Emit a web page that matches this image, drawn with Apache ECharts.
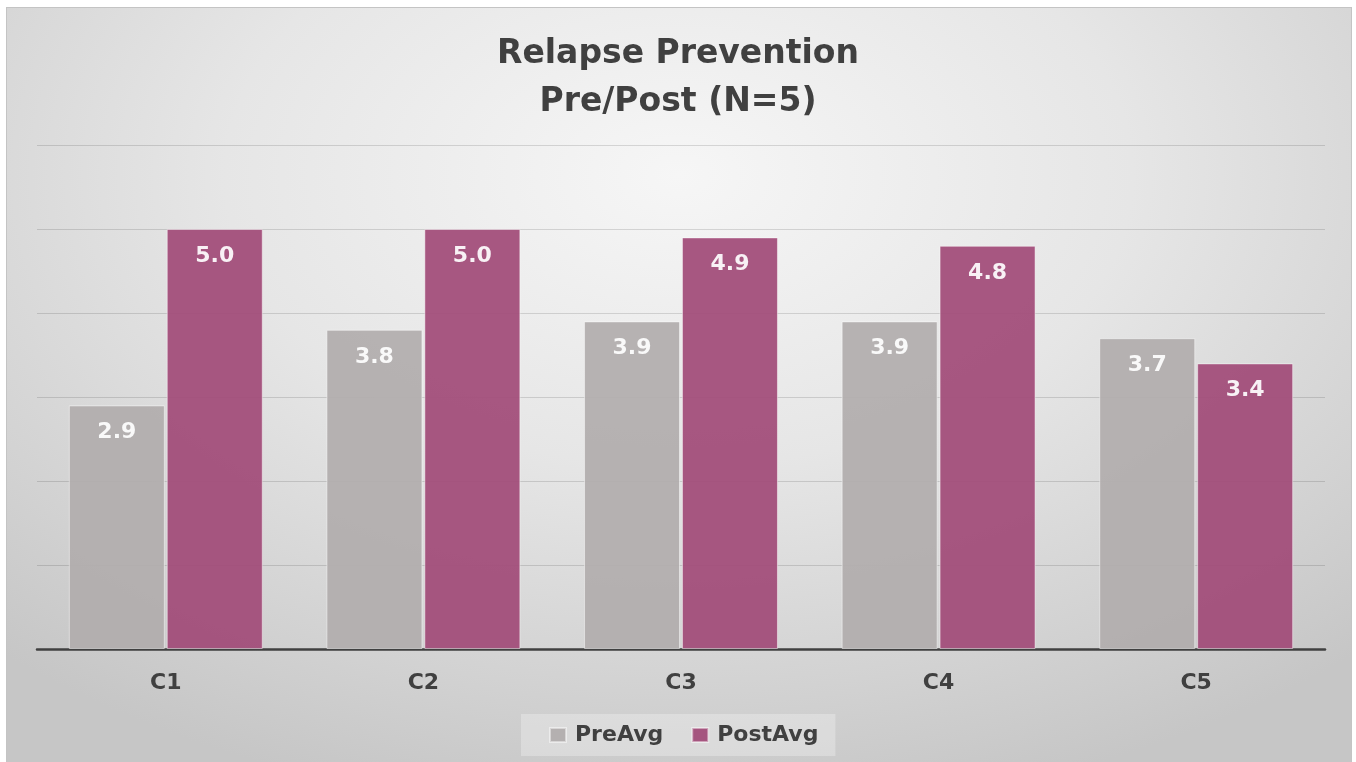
<!DOCTYPE html>
<html>
<head>
<meta charset="utf-8">
<script src="https://cdn.jsdelivr.net/npm/echarts@6/dist/echarts.min.js"></script>
<style>
  html, body { margin: 0; padding: 0; width: 1356px; height: 762px; background: #ffffff; overflow: hidden; }
  #bg { position: absolute; left: 6px; top: 7px; width: 1344px; height: 760px; border: 1px solid #c4c4c4;
        background: radial-gradient(ellipse 75% 85% at 50% 22%, #f6f6f6 0%, #e6e6e6 45%, #d2d2d2 80%, #c6c6c6 100%); }
  #chart { position: absolute; left: 0; top: 0; width: 1356px; height: 762px; }
</style>
</head>
<body>
<div id="bg"></div>
<div id="chart"></div>
<script>
const categories = ['C1', 'C2', 'C3', 'C4', 'C5'];
const preAvg = [2.9, 3.8, 3.9, 3.9, 3.7];
const postAvg = [5.0, 5.0, 4.9, 4.8, 3.4];
const seriesNames = ['PreAvg', 'PostAvg'];
const titleText = 'Relapse Prevention\nPre/Post (N=5)';

const FONT = '"DejaVu Sans", Verdana, sans-serif';
const chart = echarts.init(document.getElementById('chart'), null, { renderer: 'canvas' });

const labelStyle = {
  show: true,
  position: 'insideTop',
  distance: 16,
  color: '#ffffff',
  fontFamily: FONT,
  fontWeight: 'bold',
  fontSize: 22,
  formatter: p => p.value.toFixed(1)
};

chart.setOption({
  backgroundColor: 'transparent',
  animation: false,
  title: {
    text: titleText,
    left: 'center',
    top: 25,
    textStyle: { fontFamily: FONT, fontWeight: 'bold', fontSize: 33, color: '#404040', lineHeight: 48 }
  },
  legend: {
    data: seriesNames,
    bottom: 6,
    left: 521,
    icon: 'rect',
    itemWidth: 16,
    itemHeight: 14,
    itemGap: 28,
    padding: [10, 17, 10, 28],
    backgroundColor: 'rgba(255,255,255,0.28)',
    textStyle: { fontFamily: FONT, fontWeight: 'bold', fontSize: 22, color: '#404040', padding: [0, 0, 0, 4] }
  },
  grid: { left: 37, right: 31, top: 145, bottom: 113, containLabel: false },
  xAxis: {
    type: 'category',
    data: categories,
    axisLine: { lineStyle: { color: '#404040', width: 2.5 } },
    axisTick: { show: false },
    axisLabel: { margin: 23, fontFamily: FONT, fontWeight: 'bold', fontSize: 22, color: '#404040' }
  },
  yAxis: {
    type: 'value',
    min: 0,
    max: 6,
    interval: 1,
    axisLine: { show: false },
    axisTick: { show: false },
    axisLabel: { show: false },
    splitLine: { lineStyle: { color: 'rgba(0,0,0,0.13)', width: 1 } }
  },
  series: [
    {
      name: seriesNames[0],
      type: 'bar',
      data: preAvg,
      barWidth: 96,
      barGap: '2%',
      itemStyle: { color: '#b1acac', opacity: 0.92, borderColor: 'rgba(255,255,255,0.5)', borderWidth: 1 },
      label: labelStyle
    },
    {
      name: seriesNames[1],
      type: 'bar',
      data: postAvg,
      barWidth: 96,
      barGap: '2%',
      itemStyle: { color: '#a14a77', opacity: 0.92, borderColor: 'rgba(255,255,255,0.5)', borderWidth: 1 },
      label: labelStyle
    }
  ]
});
</script>
</body>
</html>
